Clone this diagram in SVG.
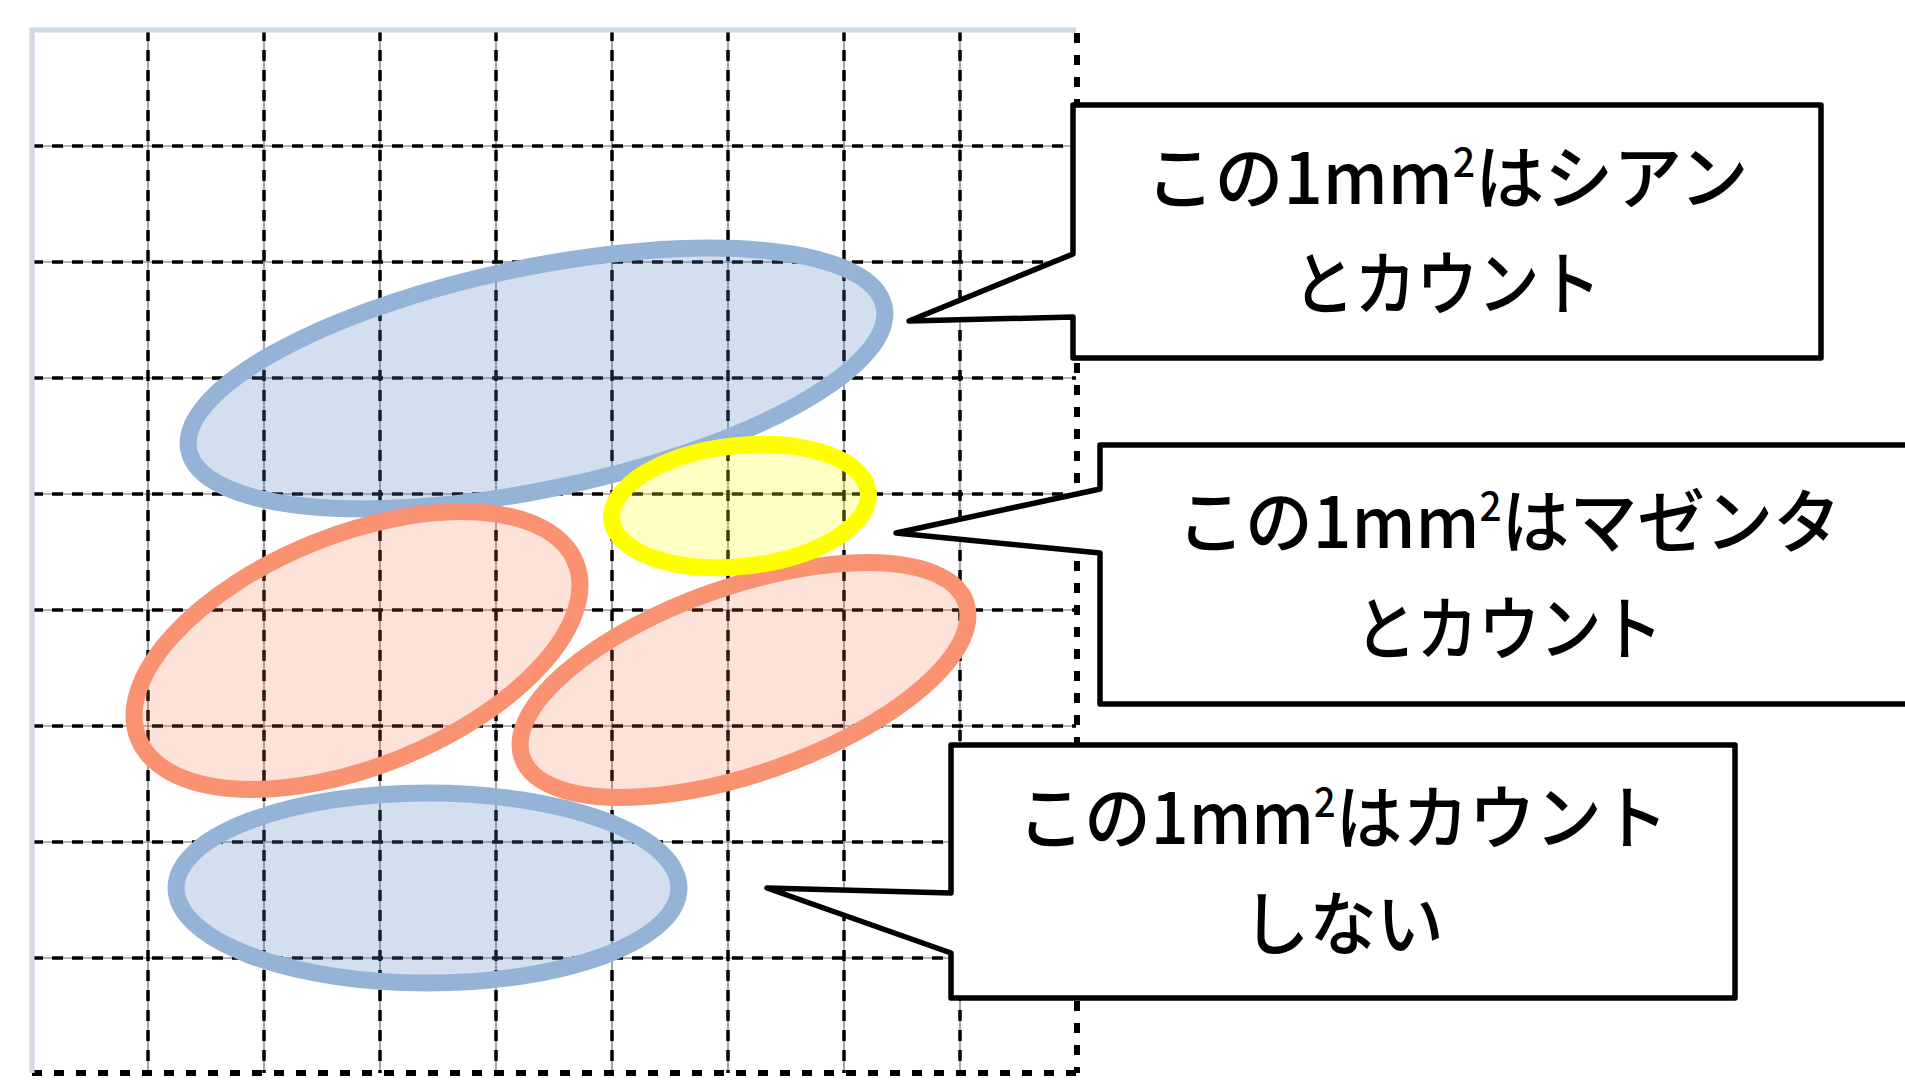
<svg xmlns="http://www.w3.org/2000/svg" width="1905" height="1080" viewBox="0 0 1905 1080">
  <style>
    .thin { stroke: #6a6a6a; stroke-width: 1.2; fill: none; }
    .dash { stroke: #000; stroke-width: 3.5; stroke-dasharray: 11 9; fill: none; }
    .edge { stroke: #000; stroke-width: 6; stroke-dasharray: 10 12; fill: none; }
    .frame { stroke: #D0D8E4; stroke-width: 5; fill: none; }
    .blue { fill: #4F81BD; fill-opacity: 0.25; stroke: #95B3D7; stroke-width: 17; }
    .orange { fill: #F56E41; fill-opacity: 0.2; stroke: #FA9171; stroke-width: 17; }
    .yellow { fill: #FFFF14; fill-opacity: 0.25; stroke: #FFFF00; stroke-width: 17; }
    .callout { fill: #fff; stroke: #000; stroke-width: 5.5; stroke-linejoin: round; }
    .label { font-family: "Noto Sans CJK JP", "Noto Sans", sans-serif; font-size: 70px; font-weight: 500; fill: #000; text-anchor: middle; }
  </style>
  <rect x="0" y="0" width="1905" height="1080" fill="#fff"/>

  <g id="grid">
    <g class="thin">
      <path d="M148,30V1073M264,30V1073M380,30V1073M496,30V1073M612,30V1073M728,30V1073M844,30V1073M960,30V1073"/>
      <path d="M32,146H1076M32,262H1076M32,378H1076M32,494H1076M32,610H1076M32,726H1076M32,842H1076M32,958H1076"/>
    </g>
    <g class="dash">
      <path d="M148,30V1073M264,30V1073M380,30V1073M496,30V1073M612,30V1073M728,30V1073M844,30V1073M960,30V1073"/>
      <path d="M32,146H1076M32,262H1076M32,378H1076M32,494H1076M32,610H1076M32,726H1076M32,842H1076M32,958H1076"/>
    </g>
    <path class="edge" d="M1077,33V1073M32,1073H1077"/>
    <path class="frame" d="M32,1073V30H1076"/>
  </g>

  <g id="ellipse-blue-top">
    <ellipse class="blue" cx="536.5" cy="378.5" rx="355" ry="111" transform="rotate(-11.7 536.5 378.5)"/>
  </g>
  <g id="ellipse-orange-left">
    <ellipse class="orange" cx="357" cy="650.5" rx="235.7" ry="116" transform="rotate(-21.9 357 650.5)"/>
  </g>
  <g id="ellipse-orange-right">
    <ellipse class="orange" cx="744" cy="680" rx="235" ry="93.5" transform="rotate(-19.3 744 680)"/>
  </g>
  <g id="ellipse-yellow">
    <ellipse class="yellow" cx="740" cy="506" rx="129" ry="60.5" transform="rotate(-6.2 740 506)"/>
  </g>
  <g id="ellipse-blue-bottom">
    <ellipse class="blue" cx="427.5" cy="888" rx="251.5" ry="95"/>
  </g>

  <g id="callout-cyan">
    <path class="callout" d="M1073,105H1821V358H1073V317L909,321L1073,254Z"/>
    <text class="label" x="1447" y="204" transform="translate(1447 0) scale(0.985 1) translate(-1447 0)">この1mm<tspan font-size="40" dy="-27">2</tspan><tspan dy="27">はシアン</tspan></text>
    <text class="label" x="1447" y="310" transform="translate(1447 0) scale(0.88 1) translate(-1447 0)">とカウント</text>
  </g>

  <g id="callout-magenta">
    <path class="callout" d="M1100,445H1925V704H1100V553L896,533L1100,489Z"/>
    <text class="label" x="1509" y="548" transform="translate(1509 0) scale(0.97 1) translate(-1509 0)">この1mm<tspan font-size="40" dy="-27">2</tspan><tspan dy="27">はマゼンタ</tspan></text>
    <text class="label" x="1509" y="655" transform="translate(1509 0) scale(0.88 1) translate(-1509 0)">とカウント</text>
  </g>

  <g id="callout-none">
    <path class="callout" d="M951,745H1735V998H951V953L767,888L951,893Z"/>
    <text class="label" x="1343" y="844" transform="translate(1343 0) scale(0.95 1) translate(-1343 0)">この1mm<tspan font-size="40" dy="-27">2</tspan><tspan dy="27">はカウント</tspan></text>
    <text class="label" x="1343" y="950" transform="translate(1343 0) scale(0.96 1) translate(-1343 0)">しない</text>
  </g>
</svg>
